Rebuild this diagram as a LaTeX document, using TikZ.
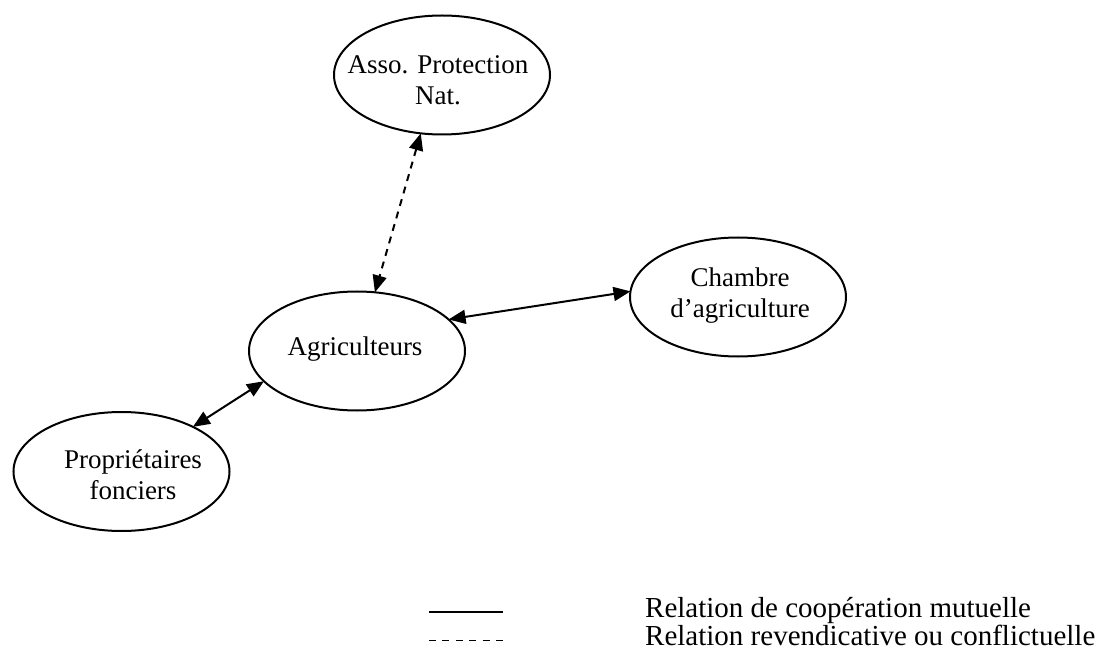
\documentclass[tikz,border=0pt]{standalone}
\usepackage{fontspec}
\setmainfont{Liberation Serif}
\usetikzlibrary{shapes.geometric,arrows.meta}
\tikzset{
  ell/.style={ellipse, draw, line width=2pt, minimum width=216pt, minimum height=119pt, inner sep=0pt, outer sep=0pt},
  lbl/.style={align=center, anchor=base, inner sep=0pt, font=\fontsize{27}{31}\selectfont},
  legtxt/.style={anchor=base west, inner sep=0pt, font=\fontsize{29}{31}\selectfont},
  tip/.tip={Triangle[length=17pt,width=14pt]},
  conn/.style={line width=2pt, tip-tip},
  dconn/.style={conn, dash pattern=on 7pt off 6pt},
}
\begin{document}
\begin{tikzpicture}[x=1pt,y=-1pt]
\useasboundingbox (0,0) rectangle (1103,652);
% ellipses
\node[ell] (asso) at (442,75) {};
\node[ell] (agri) at (357,351) {};
\node[ell] (cham) at (738,297) {};
\node[ell] (prop) at (121.5,471.5) {};
% labels (anchor = baseline of last line)
\node[lbl] (assot) at (438,105) {Asso. Protection\\Nat.};
\node[lbl] (agrit) at (355,355) {Agriculteurs};
\node[lbl] (chamt) at (740,317) {Chambre\\d’agriculture};
\node[lbl] (propt) at (133,499) {Propriétaires\\fonciers};
% connectors
\draw[dconn] (asso.250) -- (agri.73);
\draw[conn] (agri.19) -- (cham.177);
\draw[conn] (prop.32) -- (agri.198);
% legend
\coordinate (s1) at (429,612);
\coordinate (s2) at (503,612);
\coordinate (d1) at (429,640);
\coordinate (d2) at (503,640);
\draw[line width=1.5pt] (s1) -- (s2);
\draw[line width=1pt, dash pattern=on 7pt off 6.4pt] (d1) -- (d2);
\node[legtxt] (leg1) at (645,617) {Relation de coopération mutuelle};
\node[legtxt] (leg2) at (645,645) {Relation revendicative ou conflictuelle};
\end{tikzpicture}
\end{document}
